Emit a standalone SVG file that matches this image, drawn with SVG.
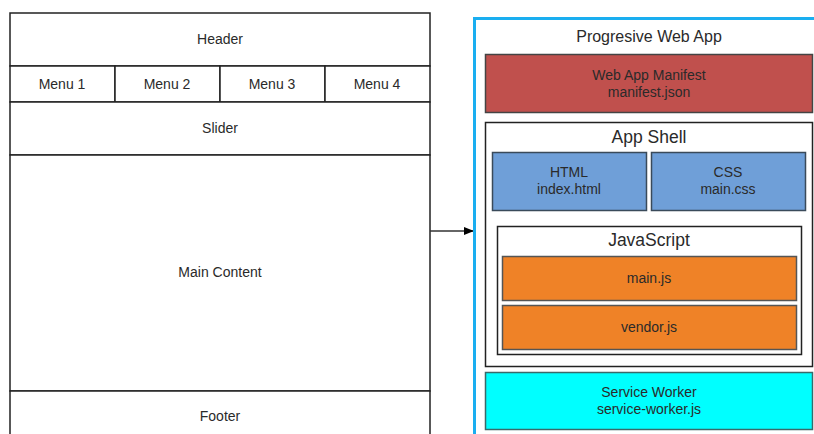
<svg xmlns="http://www.w3.org/2000/svg" width="814" height="434" viewBox="0 0 814 434">
<defs>
<marker id="arr" markerWidth="10" markerHeight="10" refX="9" refY="5" orient="auto" markerUnits="userSpaceOnUse">
<path d="M0,1 L10,5 L0,9 Z" fill="#000"/>
</marker>
</defs>
<style>
text{font-family:"Liberation Sans",Arial,sans-serif;fill:#2a2a2a;text-anchor:middle;dominant-baseline:central}
.lb{fill:#fff;stroke:#222;stroke-width:1.5}
.s{font-size:14px}
.m{font-size:16px}
.l{font-size:17.5px}
.red{fill:#c0504d;stroke:#444;stroke-width:1.5}
.blue{fill:#6f9fd8;stroke:#3a4a5a;stroke-width:1.5}
.org{fill:#ef8227;stroke:#555;stroke-width:1.5}
.cy{fill:#00ffff;stroke:#3a6a6a;stroke-width:1.5}
.box{fill:#fff;stroke:#222;stroke-width:1.5}
</style>
<rect width="814" height="434" fill="#fff"/>
<g id="layout">
<g id="header"><rect class="lb" x="10" y="13" width="420" height="53"/><text class="s" x="220" y="39">Header</text></g>
<g id="menu1"><rect class="lb" x="10" y="66" width="105" height="36"/><text class="s" x="62" y="84">Menu 1</text></g>
<g id="menu2"><rect class="lb" x="115" y="66" width="105" height="36"/><text class="s" x="167" y="84">Menu 2</text></g>
<g id="menu3"><rect class="lb" x="220" y="66" width="105" height="36"/><text class="s" x="272" y="84">Menu 3</text></g>
<g id="menu4"><rect class="lb" x="325" y="66" width="105" height="36"/><text class="s" x="377" y="84">Menu 4</text></g>
<g id="slider"><rect class="lb" x="10" y="102" width="420" height="53"/><text class="s" x="220" y="128">Slider</text></g>
<g id="main"><rect class="lb" x="10" y="155" width="420" height="236"/><text class="s" x="220" y="272">Main Content</text></g>
<g id="footer"><rect class="lb" x="10" y="391" width="420" height="60"/><text class="s" x="220" y="416">Footer</text></g>
</g>
<g id="connectors">
<line x1="430" y1="231" x2="473" y2="231" stroke="#333" stroke-width="1.5" marker-end="url(#arr)"/>
</g>
<g id="pwa">
<rect x="474.5" y="18.5" width="360" height="430" fill="#fff" stroke="#1aaef0" stroke-width="3"/>
<text class="m" x="649" y="36">Progresive Web App</text>
</g>
<g id="manifest"><rect class="red" x="485.5" y="54.5" width="327" height="58"/><text class="s" x="649" y="75">Web App Manifest</text><text class="s" x="649" y="92">manifest.json</text></g>
<g id="appshell"><rect class="box" x="485.5" y="122.5" width="327" height="244"/><text class="l" x="649" y="137">App Shell</text></g>
<g id="html"><rect class="blue" x="492.5" y="152.5" width="154" height="58"/><text class="s" x="569" y="172">HTML</text><text class="s" x="569" y="189">index.html</text></g>
<g id="css"><rect class="blue" x="651.5" y="152.5" width="154" height="58"/><text class="s" x="728" y="172">CSS</text><text class="s" x="728" y="189">main.css</text></g>
<g id="javascript"><rect class="box" x="497.5" y="226.5" width="304" height="128"/><text class="l" x="649" y="240">JavaScript</text></g>
<g id="mainjs"><rect class="org" x="502.5" y="256.5" width="294" height="44"/><text class="s" x="649" y="278">main.js</text></g>
<g id="vendorjs"><rect class="org" x="502.5" y="305.5" width="294" height="44"/><text class="s" x="649" y="327">vendor.js</text></g>
<g id="serviceworker"><rect class="cy" x="485.5" y="372.5" width="327" height="57"/><text class="s" x="649" y="392">Service Worker</text><text class="s" x="649" y="409">service-worker.js</text></g>
</svg>
